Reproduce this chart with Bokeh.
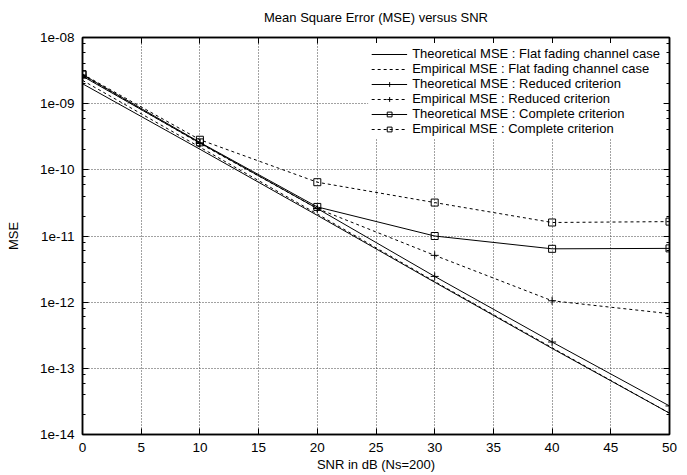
from bokeh.plotting import figure
from bokeh.models import (LogAxis, LinearAxis, FixedTicker, Legend, LegendItem,
                          Range1d, CustomJSTickFormatter)
from bokeh.embed import file_html
from bokeh.resources import INLINE

# ---- data ----
snr = [0, 10, 20, 30, 40, 50]
theo_flat = [2.0e-9, 2.05e-10, 2.05e-11, 2.0e-12, 2.0e-13, 2.1e-14]
emp_flat = [2.25e-9, 2.2e-10, 2.15e-11, 2.05e-12, 2.05e-13, 2.1e-14]
theo_reduced = [2.6e-9, 2.55e-10, 2.6e-11, 2.45e-12, 2.5e-13, 2.7e-14]
emp_reduced = [2.7e-9, 2.5e-10, 2.6e-11, 5.1e-12, 1.05e-12, 6.7e-13]
theo_complete = [2.75e-9, 2.6e-10, 2.75e-11, 1.0e-11, 6.4e-12, 6.5e-12]
emp_complete = [2.8e-9, 2.85e-10, 6.5e-11, 3.2e-11, 1.6e-11, 1.65e-11]

labels = [
    "Theoretical MSE : Flat fading channel case",
    "Empirical MSE : Flat fading channel case",
    "Theoretical MSE : Reduced criterion",
    "Empirical MSE : Reduced criterion",
    "Theoretical MSE : Complete criterion",
    "Empirical MSE : Complete criterion",
]

x_ticks = [0, 5, 10, 15, 20, 25, 30, 35, 40, 45, 50]
y_ticks = [1e-14, 1e-13, 1e-12, 1e-11, 1e-10, 1e-09, 1e-08]
y_tick_labels = ["1e-14", "1e-13", "1e-12", "1e-11", "1e-10", "1e-09", "1e-08"]
y_minor = [m * 10.0 ** e for e in range(-14, -8) for m in (2, 4, 6, 8)]

FONT = "Liberation Sans"

p = figure(width=687, height=475, y_axis_type="log",
           x_range=Range1d(0, 50), y_range=Range1d(1e-14, 1e-8),
           output_backend="svg", toolbar_location=None,
           min_border_left=82, min_border_right=18,
           min_border_top=37, min_border_bottom=41)

p.title.text = "Mean Square Error (MSE) versus SNR"
p.title.align = "center"
p.title.text_font = FONT
p.title.text_font_size = "13px"
p.title.text_font_style = "normal"
p.title.text_color = "black"
p.title.standoff = 15

p.outline_line_color = "black"
p.outline_line_width = 1.5

xt = FixedTicker(ticks=x_ticks, minor_ticks=[])
yt = FixedTicker(ticks=y_ticks, minor_ticks=y_minor)

p.xaxis.ticker = xt
p.yaxis.ticker = yt
p.yaxis.major_label_overrides = dict(zip(y_ticks, y_tick_labels))
p.xaxis.axis_label = "SNR in dB (Ns=200)"
p.yaxis.axis_label = "MSE"

for ax in (p.xaxis[0], p.yaxis[0]):
    ax.axis_line_color = "black"
    ax.axis_line_width = 1.5
    ax.major_tick_in = 6
    ax.major_tick_out = 0
    ax.minor_tick_in = 3
    ax.minor_tick_out = 0
    ax.major_tick_line_color = "black"
    ax.minor_tick_line_color = "black"
    ax.major_label_text_font = FONT
    ax.major_label_text_font_size = "13.5px"
    ax.major_label_text_color = "black"
    ax.axis_label_text_font = FONT
    ax.axis_label_text_font_size = "13px"
    ax.axis_label_text_font_style = "normal"
    ax.axis_label_text_color = "black"

p.yaxis.major_label_standoff = 8
p.yaxis.axis_label_standoff = 16
p.xaxis.major_label_standoff = 8
p.xaxis.axis_label_standoff = 2

# mirrored tick axes (no labels)
blank = CustomJSTickFormatter(code="return ' ';")
top = LinearAxis(ticker=xt, formatter=blank,
                 major_tick_in=6, major_tick_out=0, minor_tick_in=0, minor_tick_out=0,
                 major_label_standoff=0, axis_line_width=1.5,
                 major_label_text_font_size="2px")
right = LogAxis(ticker=yt, formatter=blank,
                major_tick_in=6, major_tick_out=0, minor_tick_in=3, minor_tick_out=0,
                major_label_standoff=0, axis_line_width=1.5,
                major_label_text_font_size="2px")
p.add_layout(top, "above")
p.add_layout(right, "right")

for g in (p.xgrid[0], p.ygrid[0]):
    g.grid_line_color = "#444444"
    g.grid_line_dash = "1 2"
    g.grid_line_width = 1

DASH = "3 3"
items = []

r1 = p.line(snr, theo_flat, line_color="black", line_width=1)
items.append(LegendItem(label=labels[0], renderers=[r1]))

r2 = p.line(snr, emp_flat, line_color="black", line_width=1, line_dash=DASH)
items.append(LegendItem(label=labels[1], renderers=[r2]))

r3 = p.line(snr, theo_reduced, line_color="black", line_width=1)
r3m = p.scatter(snr, theo_reduced, marker="cross", size=8, line_color="black")
items.append(LegendItem(label=labels[2], renderers=[r3, r3m]))

r4 = p.line(snr, emp_reduced, line_color="black", line_width=1, line_dash=DASH)
r4m = p.scatter(snr, emp_reduced, marker="cross", size=8, line_color="black")
items.append(LegendItem(label=labels[3], renderers=[r4, r4m]))

r5 = p.line(snr, theo_complete, line_color="black", line_width=1)
r5m = p.scatter(snr, theo_complete, marker="square", size=7, line_color="black",
                fill_color=None)
items.append(LegendItem(label=labels[4], renderers=[r5, r5m]))

r6 = p.line(snr, emp_complete, line_color="black", line_width=1, line_dash=DASH)
r6m = p.scatter(snr, emp_complete, marker="square", size=7, line_color="black",
                fill_color=None)
items.append(LegendItem(label=labels[5], renderers=[r6, r6m]))

legend = Legend(items=items, location="top_right")
legend.label_text_font = FONT
legend.label_text_font_size = "13px"
legend.label_text_color = "black"
legend.label_text_line_height = 0.8
legend.background_fill_color = "white"
legend.background_fill_alpha = 1.0
legend.border_line_alpha = 0
legend.glyph_width = 36
legend.glyph_height = 12
legend.label_height = 12
legend.spacing = 0
legend.padding = 3
legend.margin = 6
p.add_layout(legend)

open("out.html", "w").write(file_html(p, INLINE))
